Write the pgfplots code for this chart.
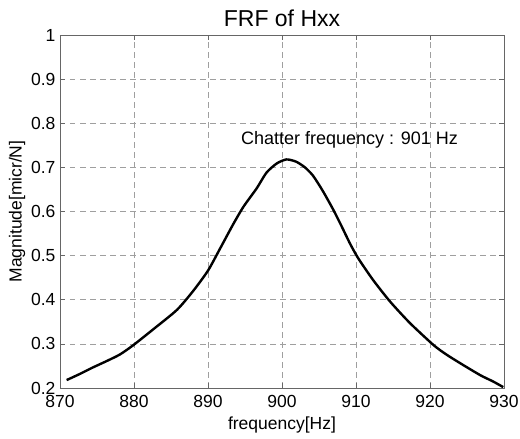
\documentclass[border=0pt]{standalone}
\usepackage{fontspec}
\setmainfont{Liberation Sans}
\usepackage{pgfplots}
\pgfplotsset{compat=1.18}
\begin{document}
\begin{tikzpicture}
\useasboundingbox (0,0) rectangle (520pt,439pt);
\begin{axis}[
  at={(60pt,51pt)}, anchor=south west,
  scale only axis, width=444pt, height=353pt,
  xmin=870, xmax=930, ymin=0.2, ymax=1,
  xtick={870,880,...,930},
  ytick={0.2,0.3,...,1.0},
  yticklabels={0.2,0.3,0.4,0.5,0.6,0.7,0.8,0.9,1},
  /pgf/number format/assume math mode=true,
  xticklabel style={font=\fontsize{17.5}{17.5}\selectfont, yshift=-4pt},
  yticklabel style={font=\fontsize{17.5}{17.5}\selectfont, xshift=-1pt},
  tick align=inside, major tick length=5pt,
  tick style={gray!80!black, line width=0.6pt},
  axis line style={gray!80!black, line width=0.8pt},
  grid=major,
  major grid style={gray!75, line width=0.7pt, dash pattern=on 5.5pt off 4.5pt},
  title={\fontsize{23}{23}\selectfont FRF of Hxx},
  title style={yshift=-1pt},
  xlabel={\fontsize{17.5}{17.5}\selectfont frequency[Hz]},
  ylabel={\fontsize{17.5}{17.5}\selectfont Magnitude[micr/N]},
  xlabel style={yshift=-2pt},
  ylabel style={yshift=-1pt},
]
\addplot[black, line width=2.4pt, smooth, tension=0.4] coordinates {
(870.9,0.218) (872.7,0.232) (874.5,0.247) (876.3,0.261) (878.1,0.276)
(879.9,0.297) (882.6,0.333) (885.8,0.377) (888.0,0.420) (890.0,0.466)
(891.6,0.515) (893.4,0.571) (894.8,0.611) (896.6,0.653) (897.9,0.688)
(899.3,0.709) (900.6,0.718) (901.9,0.713) (903.1,0.700) (904.2,0.681)
(905.5,0.647) (906.9,0.605) (908.1,0.565) (909.2,0.527) (910.3,0.494)
(912.3,0.445) (914.6,0.396) (917.3,0.347) (920.5,0.297) (922.2,0.276)
(924.1,0.256) (926.8,0.229) (928.5,0.215) (929.9,0.202)
};
\node[anchor=west, font=\fontsize{18}{18}\selectfont] at (axis cs:894.0,0.762) {Chatter frequency : 901 Hz};
\end{axis}
\end{tikzpicture}
\end{document}
